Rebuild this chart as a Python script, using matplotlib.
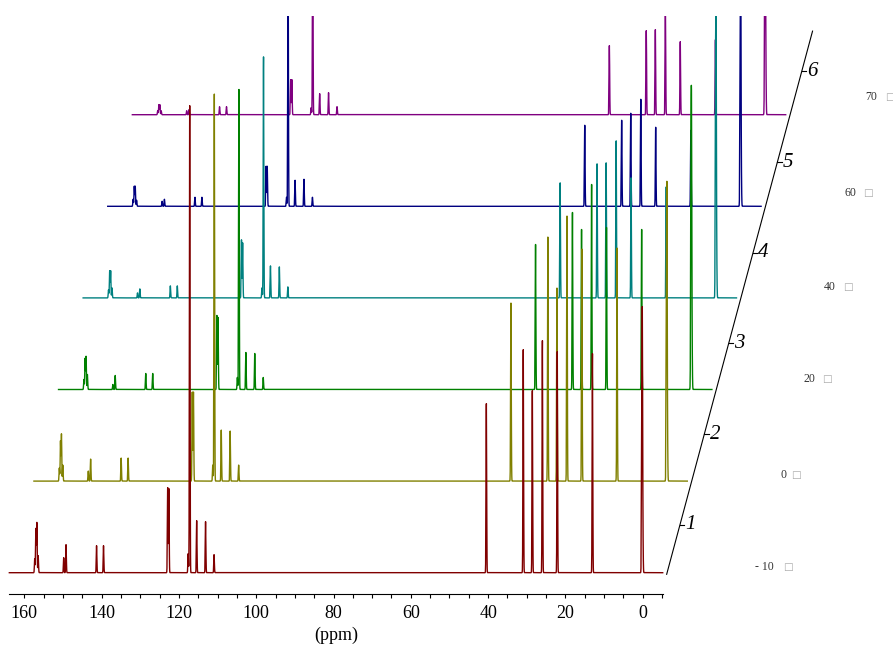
import numpy as np
import matplotlib
matplotlib.use("Agg")
import matplotlib.pyplot as plt
from matplotlib.transforms import Affine2D

plt.rcParams['font.family'] = ['Liberation Serif', 'DejaVu Sans']

# chemical shifts (ppm), shared by all six spectra
arom_shifts = [157.3, 157.0, 156.75, 156.4, 149.8, 149.2, 141.3, 139.5,
               122.9, 122.6, 117.6, 117.2, 115.4, 113.1, 110.9]
aliph_shifts = [40.45, 30.9, 28.55, 25.95, 22.1, 13.0]
tms_shifts = [0.25, 0.1, -0.05]

# peak heights, bottom spectrum first
arom_heights = [
    [14, 44, 50, 17, 15, 28, 27, 27, 85, 84, 19, 467, 52, 51, 18],
    [13, 40, 47, 16, 10, 22, 23, 23, 89, 89, 16, 387, 51, 50, 16],
    [10, 31, 33, 15, 5, 14, 16, 16, 74, 72, 12, 300, 37, 36, 12],
    [8, 27, 27, 10, 5, 9, 12, 12, 58, 55, 10, 241, 32, 31, 11],
    [7, 20, 20, 6, 5, 7, 9, 9, 40, 40, 9, 230, 26, 27, 9],
    [4, 10, 10, 4, 4, 5, 8, 8, 35, 35, 7, 200, 21, 22, 8],
]
aliph_heights = [
    [169, 223, 182, 232, 221, 219],
    [178, 244, 193, 265, 232, 233],
    [145, 177, 160, 205, 162, 160],
    [115, 134, 135, 157, 120, 111],
    [81, 86, 93, 107, 79, 76],
    [69, 84, 85, 110, 73, 75],
]
tms_heights = [
    [104, 241, 33],
    [119, 271, 38],
    [212, 249, 34],
    [204, 238, 33],
    [118, 230, 30],
    [140, 200, 38],
]
temps = ['- 10', '0', '20', '40', '60', '70']
colors = ['#800000', '#808000', '#008000', '#008080', '#000080', '#800080']

W, H = 893, 648
fig = plt.figure(figsize=(W / 100, H / 100), dpi=100)
ax = fig.add_axes([0, (H - 594.3) / H, 1, (594.3 - 16) / H])
ax.set_xlim(166.29, -64.76)
ax.set_ylim(0, 578.3)

ppm = np.arange(-5.17, 163.88, 0.005)
sigma = 0.08
dx = 6.365    # ppm shift between stacked spectra
dy = 91.6     # vertical step between stacked spectra
base0 = 21.6

for k in range(6):
    shifts = arom_shifts + aliph_shifts + tms_shifts
    heights = arom_heights[k] + aliph_heights[k] + tms_heights[k]
    spec = np.zeros_like(ppm)
    for p, h in zip(shifts, heights):
        spec += h * np.exp(-0.5 * ((ppm - p) / sigma) ** 2)
    ax.plot(ppm - k * dx, base0 + k * dy + spec, color=colors[k],
            lw=1.0, zorder=10 - k)

# slanted depth axis
ax0, ay0 = -6.2, 20.0
t = np.array([0, 5.93])
ax.plot(ax0 - t * dx, ay0 + t * dy, color='k', lw=0.8, clip_on=False)
for k in range(1, 7):
    tk = 0.54 + 0.99 * (k - 1)
    x, y = ax0 - tk * dx, ay0 + tk * dy
    ax.plot([x, x - 1.15], [y, y], color='k', lw=0.8, clip_on=False)
    ax.text(x - 1.35, y, str(k), fontsize=15, fontstyle='italic',
            ha='left', va='center')

# bottom ppm axis
for s in ['left', 'right', 'top']:
    ax.spines[s].set_visible(False)
ax.spines['bottom'].set_bounds(-5.17, 163.88)
ax.spines['bottom'].set_linewidth(0.8)
ticks = np.arange(-5, 161, 5)
ax.set_xticks(ticks)
ax.set_xticklabels([str(v) if v >= 0 and v % 20 == 0 else '' for v in ticks])
ax.tick_params(axis='x', direction='out', length=3, width=0.8,
               labelsize=13, pad=5)
ax.set_yticks([])
ax.set_xlabel('(ppm)', fontsize=13)
ax.xaxis.set_label_coords(336 / W, -0.056)

# temperature labels at the right (pixel placement)
px = Affine2D().scale(1 / W, -1 / H).translate(0, 1) + fig.transFigure
num_right = [774, 786.5, 815, 836, 856, 877.5]
box_x = [787.5, 795.7, 826.7, 848.3, 868, 889.5]
lab_y = [566.7, 475, 379.3, 286.7, 193.3, 96.7]
for tlab, xr, xb, yl in zip(temps, num_right, box_x, lab_y):
    fig.text(xr, yl, tlab, transform=px, fontsize=8.5, color='#333333',
             ha='right', va='center')
    fig.text(xb, yl, '\u25a1', transform=px, fontsize=7.5, color='#aaaaaa',
             ha='center', va='center', family='DejaVu Sans')

fig.savefig('out.png', dpi=100)
